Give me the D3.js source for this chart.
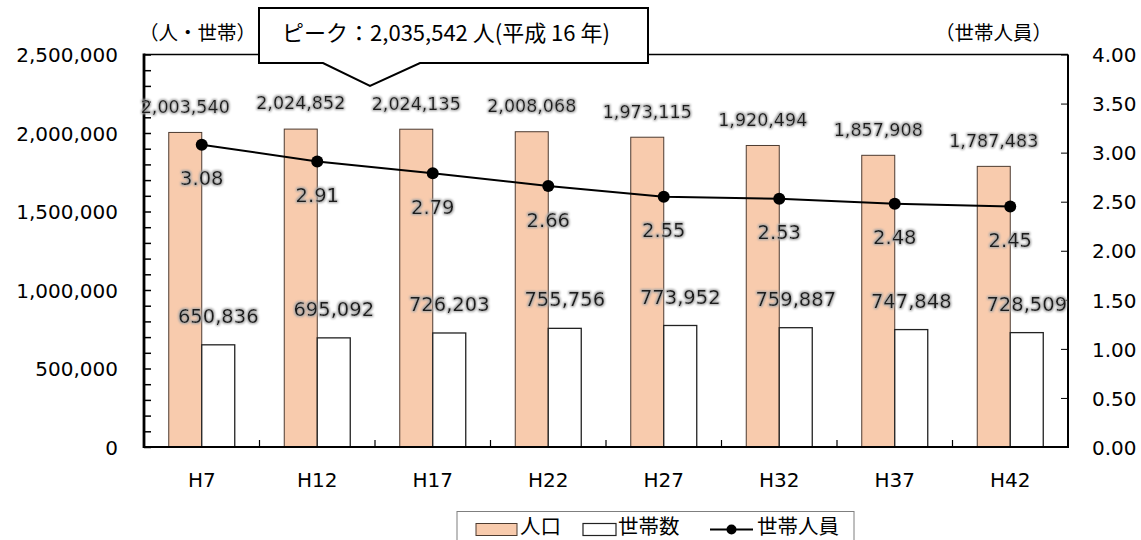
<!DOCTYPE html>
<html>
<head>
<meta charset="utf-8">
<script src="https://cdn.jsdelivr.net/npm/d3@7"></script>
<style>
  html, body { margin: 0; padding: 0; background: #fff; }
  svg { display: block; }
</style>
</head>
<body>
<svg id="chart" width="1141" height="540"></svg>
<script>
// Population, households and persons per household by census year
const categories = ["H7", "H12", "H17", "H22", "H27", "H32", "H37", "H42"];
const population = [2003540, 2024852, 2024135, 2008068, 1973115, 1920494, 1857908, 1787483];
const households = [650836, 695092, 726203, 755756, 773952, 759887, 747848, 728509];
const perHousehold = [3.08, 2.91, 2.79, 2.66, 2.55, 2.53, 2.48, 2.45];

const leftTicks = [0, 500000, 1000000, 1500000, 2000000, 2500000];
const leftMinorStep = 100000;
const rightTicks = [0, 0.5, 1, 1.5, 2, 2.5, 3, 3.5, 4];
const seriesNames = ["人口", "世帯数", "世帯人員"];
const leftUnit = "（人・世帯）";
const rightUnit = "（世帯人員）";
const peakNote = "ピーク：2,035,542 人(平成 16 年)";

const NUM_FONT = "'DejaVu Sans', Verdana, sans-serif";
const JP_FONT = "'Noto Sans CJK JP', sans-serif";
const PEACH = "#F8CBAD";

const svg = d3.select("#chart");

// plot frame
const plotL = 144, plotR = 1068, plotT = 54.5, plotB = 447;

const x = d3.scaleBand().domain(categories).range([plotL, plotR]).padding(0);
const xs = d3.scaleBand().domain(["pop", "hh"]).range([0, x.bandwidth()])
  .paddingInner(0).paddingOuter(0.75);
const yL = d3.scaleLinear().domain([0, 2500000]).range([plotB, plotT]);
const yR = d3.scaleLinear().domain([0, 4]).range([plotB, plotT]);

// label halo
const defs = svg.append("defs");
const f = defs.append("filter").attr("id", "halo")
  .attr("x", "-20%").attr("y", "-50%").attr("width", "140%").attr("height", "200%");
f.append("feMorphology").attr("in", "SourceAlpha").attr("operator", "dilate")
  .attr("radius", 1.4).attr("result", "d");
f.append("feGaussianBlur").attr("in", "d").attr("stdDeviation", 1).attr("result", "b");
f.append("feFlood").attr("flood-color", "#a6a6a6").attr("result", "c");
f.append("feComposite").attr("in", "c").attr("in2", "b").attr("operator", "in").attr("result", "g");
const m = f.append("feMerge");
m.append("feMergeNode").attr("in", "g");
m.append("feMergeNode").attr("in", "SourceGraphic");

const fmt = d3.format(",");

// bars
const groups = svg.append("g").selectAll("g").data(categories).join("g")
  .attr("transform", d => `translate(${x(d)},0)`);

groups.append("rect")
  .attr("x", xs("pop")).attr("width", xs.bandwidth())
  .attr("y", (d, i) => yL(population[i]))
  .attr("height", (d, i) => plotB - yL(population[i]))
  .attr("fill", PEACH).attr("stroke", "#4d3b30").attr("stroke-width", 1);

groups.append("rect")
  .attr("x", xs("hh")).attr("width", xs.bandwidth())
  .attr("y", (d, i) => yL(households[i]))
  .attr("height", (d, i) => plotB - yL(households[i]))
  .attr("fill", "#fff").attr("stroke", "#222").attr("stroke-width", 1.3);

// category separators on the bottom axis
svg.append("g").selectAll("line").data(categories.slice(1)).join("line")
  .attr("x1", d => x(d)).attr("x2", d => x(d))
  .attr("y1", plotB).attr("y2", plotB - 7)
  .attr("stroke", "#000").attr("stroke-width", 1.2);

// left axis: inward ticks every 100,000, labels every 500,000
const minor = d3.range(0, 2500000 + 1, leftMinorStep);
const gLt = svg.append("g").attr("transform", `translate(${plotL},0)`)
  .call(d3.axisRight(yL).tickValues(minor).tickSize(7).tickFormat(""));
gLt.select(".domain").remove();
gLt.selectAll("line").attr("stroke", "#000").attr("stroke-width", 1.5);

const gL = svg.append("g").attr("transform", `translate(${plotL},0)`)
  .call(d3.axisLeft(yL).tickValues(leftTicks).tickSize(0).tickPadding(26).tickFormat(fmt));
gL.select(".domain").remove();
gL.selectAll("text").attr("font-family", NUM_FONT).attr("font-size", 20)
  .attr("fill", "#000").attr("dy", "0.36em");

// right axis
const gRt = svg.append("g").attr("transform", `translate(${plotR},0)`)
  .call(d3.axisLeft(yR).tickValues(rightTicks).tickSize(7).tickFormat(""));
gRt.select(".domain").remove();
gRt.selectAll("line").attr("stroke", "#000").attr("stroke-width", 1);

const gR = svg.append("g").attr("transform", `translate(${plotR},0)`)
  .call(d3.axisRight(yR).tickValues(rightTicks).tickSize(0).tickPadding(24).tickFormat(d3.format(".2f")));
gR.select(".domain").remove();
gR.selectAll("text").attr("font-family", NUM_FONT).attr("font-size", 20)
  .attr("fill", "#000").attr("dy", "0.36em");

// bottom axis labels
const gB = svg.append("g").attr("transform", `translate(0,${plotB})`)
  .call(d3.axisBottom(x).tickSize(0).tickPadding(26));
gB.select(".domain").remove();
gB.selectAll("text").attr("font-family", NUM_FONT).attr("font-size", 20).attr("fill", "#000");

// frame lines
svg.append("line").attr("x1", plotL).attr("x2", plotR).attr("y1", plotT).attr("y2", plotT)
  .attr("stroke", "#000").attr("stroke-width", 1.5);
svg.append("line").attr("x1", plotR).attr("x2", plotR).attr("y1", plotT).attr("y2", plotB)
  .attr("stroke", "#000").attr("stroke-width", 2);
svg.append("line").attr("x1", plotL - 1).attr("x2", plotR + 1).attr("y1", plotB).attr("y2", plotB)
  .attr("stroke", "#000").attr("stroke-width", 2);
svg.append("line").attr("x1", plotL).attr("x2", plotL).attr("y1", plotT - 1).attr("y2", plotB + 1)
  .attr("stroke", "#000").attr("stroke-width", 2.8);

// persons per household line
const cx = d => x(d) + x.bandwidth() / 2;
const pts = categories.map((c, i) => [cx(c), yR(perHousehold[i])]);
svg.append("path").attr("d", d3.line()(pts))
  .attr("fill", "none").attr("stroke", "#000").attr("stroke-width", 2);
svg.append("g").selectAll("circle").data(pts).join("circle")
  .attr("cx", d => d[0]).attr("cy", d => d[1]).attr("r", 6).attr("fill", "#000");

// data labels
const labels = svg.append("g").attr("filter", "url(#halo)")
  .attr("font-family", NUM_FONT).attr("fill", "#1a1a1a").attr("text-anchor", "middle");

labels.append("g").attr("font-size", 17.5).selectAll("text").data(categories).join("text")
  .attr("x", d => x(d) + xs("pop") + xs.bandwidth() / 2)
  .attr("y", (d, i) => yL(population[i]) - 26 + 6.4)
  .text((d, i) => fmt(population[i]));

labels.append("g").attr("font-size", 19.5).selectAll("text").data(categories).join("text")
  .attr("x", d => x(d) + xs("hh") + xs.bandwidth() / 2)
  .attr("y", (d, i) => yL(households[i]) - 29 + 7.1)
  .text((d, i) => fmt(households[i]));

labels.append("g").attr("font-size", 19.5).selectAll("text").data(categories).join("text")
  .attr("x", d => cx(d))
  .attr("y", (d, i) => yR(perHousehold[i]) + 33.5 + 7.1)
  .text((d, i) => perHousehold[i].toFixed(2));

// unit captions
svg.append("text").attr("x", 139).attr("y", 40).attr("font-family", JP_FONT)
  .attr("font-size", 19.5).attr("fill", "#000").text(leftUnit);
svg.append("text").attr("x", 1052).attr("y", 40).attr("text-anchor", "end")
  .attr("font-family", JP_FONT).attr("font-size", 19.5).attr("fill", "#000").text(rightUnit);

// peak callout
const cb = { x0: 259, x1: 648, y0: 8, y1: 63, p0: 323, p1: 420, tipX: 370, tipY: 86 };
svg.append("path")
  .attr("d", `M${cb.x0},${cb.y0}H${cb.x1}V${cb.y1}H${cb.p1}L${cb.tipX},${cb.tipY}L${cb.p0},${cb.y1}H${cb.x0}Z`)
  .attr("fill", "#fff").attr("stroke", "#000").attr("stroke-width", 2).attr("stroke-linejoin", "miter");
svg.append("text").attr("x", 446).attr("y", 41).attr("text-anchor", "middle")
  .attr("font-family", JP_FONT).attr("font-size", 22).attr("fill", "#000").text(peakNote);

// legend (box runs off the bottom edge)
const lg = svg.append("g");
lg.append("rect").attr("x", 457).attr("y", 511.5).attr("width", 397).attr("height", 40)
  .attr("fill", "#fff").attr("stroke", "#7f7f7f").attr("stroke-width", 1);
lg.append("rect").attr("x", 476).attr("y", 523.5).attr("width", 41).attr("height", 12)
  .attr("fill", PEACH).attr("stroke", "#4d3b30").attr("stroke-width", 1);
lg.append("rect").attr("x", 583).attr("y", 523.5).attr("width", 33).attr("height", 12)
  .attr("fill", "#fff").attr("stroke", "#222").attr("stroke-width", 1.2);
lg.append("line").attr("x1", 710).attr("x2", 753).attr("y1", 529.5).attr("y2", 529.5)
  .attr("stroke", "#000").attr("stroke-width", 2);
lg.append("circle").attr("cx", 731.5).attr("cy", 529.5).attr("r", 5).attr("fill", "#000");
const legX = [520, 618, 757];
lg.selectAll("text.lt").data(seriesNames).join("text").attr("class", "lt")
  .attr("x", (d, i) => legX[i]).attr("y", 534)
  .attr("font-family", JP_FONT).attr("font-size", 20.5).attr("fill", "#000").text(d => d);
</script>
</body>
</html>
